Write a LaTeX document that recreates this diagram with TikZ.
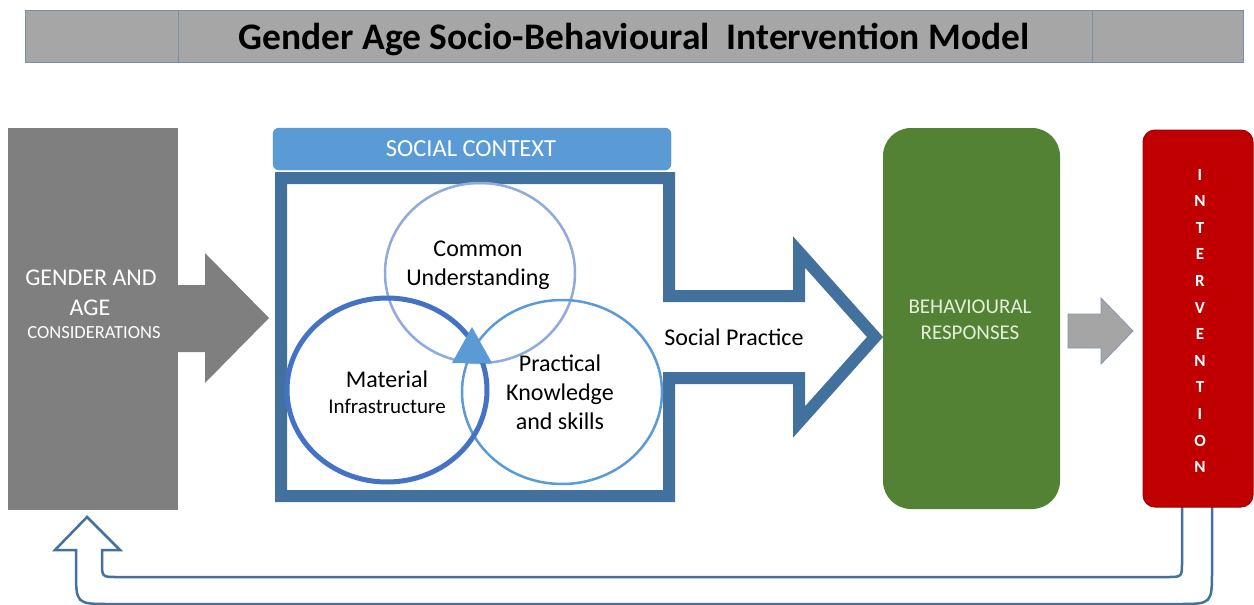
\documentclass[tikz,border=0pt]{standalone}
\usepackage{fontspec}
\setmainfont{Carlito}
\definecolor{titlefill}{HTML}{A6A6A6}
\definecolor{titleline}{HTML}{7A8FA6}
\definecolor{genderfill}{HTML}{7F7F7F}
\definecolor{ctxblue}{HTML}{5B9BD5}
\definecolor{ctxline}{HTML}{4F8CC4}
\definecolor{frameblue}{HTML}{41719C}
\definecolor{commonline}{HTML}{8FAADC}
\definecolor{materialline}{HTML}{4472C4}
\definecolor{practicalline}{HTML}{5B9BD5}
\definecolor{behavgreen}{HTML}{548235}
\definecolor{behavtext}{HTML}{E2F0D9}
\definecolor{stepgray}{HTML}{A5A5A5}
\definecolor{stepline}{HTML}{8496B0}
\definecolor{intvred}{HTML}{C00000}
\definecolor{intvline}{HTML}{A00000}
\begin{document}
\begin{tikzpicture}[x=1pt,y=-1pt,
  txt/.style={inner sep=0pt, anchor=base},
  fs/.style={font=\fontsize{#1}{#1}\selectfont},
  venn/.style={line width=#1},
  letter/.style={txt, text=white, font=\fontsize{17}{17}\selectfont\bfseries}
]
\useasboundingbox (0,0) rectangle (1254,605);

% title bar
\node[draw=titleline, fill=titlefill, line width=1pt, minimum width=1218pt, minimum height=52pt, inner sep=0pt] (title) at (634,36) {};
\draw[titleline, line width=1pt] (178,10) -- (178,62) (1092,10) -- (1092,62);
\node[txt, font=\fontsize{37.5}{37.5}\selectfont\bfseries] (titletext) at (634,49) {Gender Age Socio-Behavioural\ \ Intervention Model};

% gender and age block with its arrow
\node[fill=genderfill, minimum width=170pt, minimum height=382pt, inner sep=0pt] (gender) at (93,319) {};
\fill[genderfill] (178,285) -- (205,285) -- (205,253) -- (269,318) -- (205,383) -- (205,352) -- (178,352) -- cycle;
\node[txt, fs=24, text=white] (g1) at (91,285) {GENDER AND};
\node[txt, fs=24, text=white] (g2) at (90,315) {AGE};
\node[txt, fs=18.5, text=white] (g3) at (94,338) {CONSIDERATIONS};

% social context header
\node[draw=ctxline, fill=ctxblue, rounded corners=6pt, minimum width=398pt, minimum height=42pt, inner sep=0pt] (ctx) at (472,149) {};
\node[txt, fs=24.5, text=white] (ctxtext) at (471,156) {SOCIAL CONTEXT};

% context frame merging into the social practice arrow
\draw[line width=12pt, draw=frameblue, fill=white, line join=miter]
  (281,178) -- (669,178) -- (669,296) -- (799,296) -- (799,252) -- (875,337)
  -- (799,422) -- (799,378) -- (669,378) -- (669,496) -- (281,496) -- cycle;
\node[txt, fs=24] (practice) at (734,345) {Social Practice};

% three overlapping circles
\draw[venn=2.5pt, commonline] (480,273) ellipse [x radius=95pt, y radius=90pt];
\draw[venn=2.5pt, practicalline] (562,392) ellipse [x radius=100pt, y radius=92pt];
\draw[venn=5pt, materialline] (387,390) ellipse [x radius=100pt, y radius=92pt];
\fill[ctxblue] (472,327) -- (452,363) -- (492,363) -- cycle;

\node[txt, fs=24] (c1) at (478,256) {Common};
\node[txt, fs=24] (c2) at (478,285) {Understanding};
\node[txt, fs=24] (m1) at (387,387) {Material};
\node[txt, fs=21] (m2) at (387,413) {Infrastructure};
\node[txt, fs=24] (p1) at (560,371) {Practical};
\node[txt, fs=24] (p2) at (560,400) {Knowledge};
\node[txt, fs=24] (p3) at (560,429) {and skills};

% behavioural responses
\node[fill=behavgreen, rounded corners=28pt, minimum width=177pt, minimum height=381pt, inner sep=0pt] (behav) at (971.5,318.5) {};
\node[txt, fs=21, text=behavtext] (b1) at (970,313) {BEHAVIOURAL};
\node[txt, fs=21, text=behavtext] (b2) at (970,339) {RESPONSES};

% arrow to intervention
\draw[fill=stepgray, draw=stepline, line width=0.8pt]
  (1068,314) -- (1101,314) -- (1101,298) -- (1133,331) -- (1101,364) -- (1101,348) -- (1068,348) -- cycle;

% feedback arrow back to gender and age
\draw[line width=2.5pt, draw=frameblue, fill=white, line join=miter]
  (1182,505) -- (1182,562) .. controls (1182,577) .. (1167,577) -- (117,577)
  .. controls (102,577) .. (102,562) -- (102,550) -- (120,550) -- (87,517)
  -- (55,550) -- (76,550) -- (76,570) .. controls (76,604) .. (110,604)
  -- (1178,604) .. controls (1212,604) .. (1212,570) -- (1212,505);

% intervention
\node[draw=intvline, fill=intvred, rounded corners=12pt, minimum width=110pt, minimum height=377pt, inner sep=0pt, line width=1pt] (intv) at (1198,318.5) {};
\foreach \ch [count=\i] in {I,N,T,E,R,V,E,N,T,I,O,N}
  \node[letter] (iv\i) at (1200,{180+26.6*(\i-1)}) {\ch};
\end{tikzpicture}
\end{document}
